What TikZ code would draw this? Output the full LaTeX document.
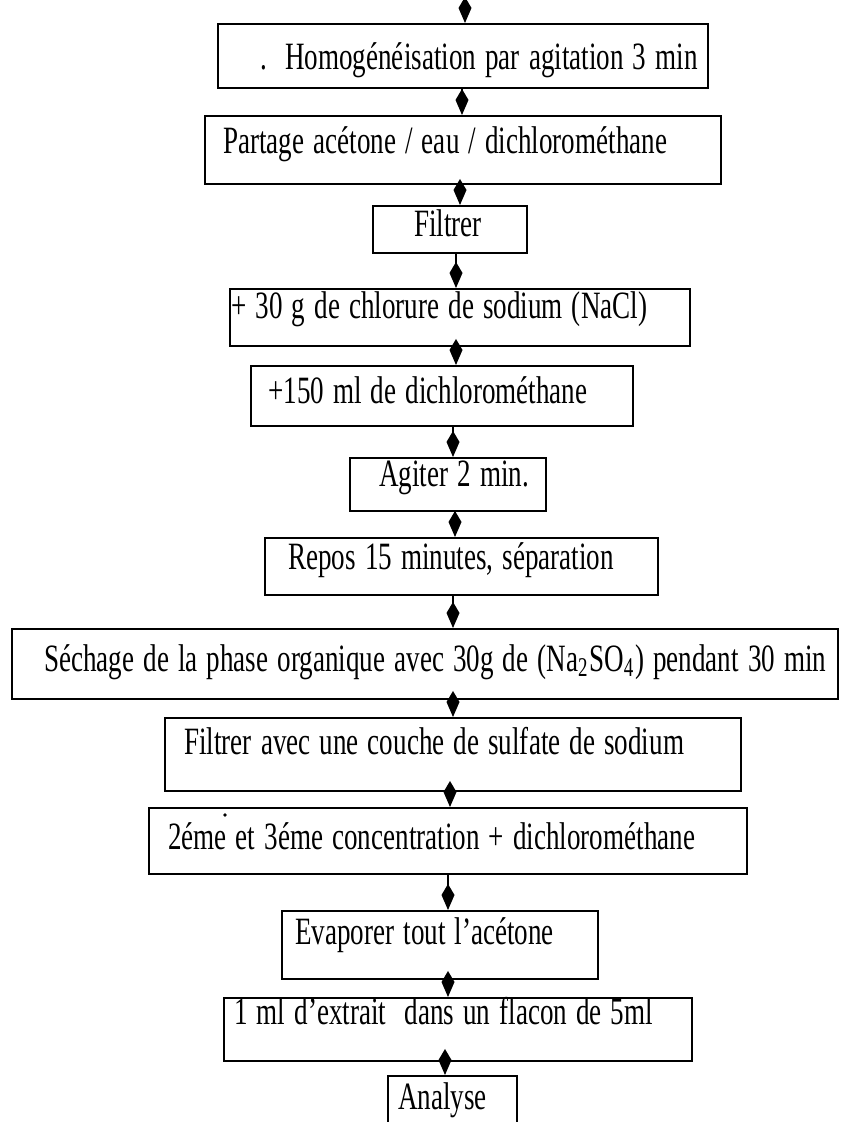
\documentclass[tikz,border=0pt]{standalone}
\usepackage{fontspec}
\setmainfont{Liberation Serif}[FakeStretch=0.7]
\usetikzlibrary{arrows.meta}

\begin{document}
\begin{tikzpicture}[
    stepbox/.style={draw, line width=0.7pt, inner sep=0pt, anchor=north west, font=\fontsize{11}{13}\selectfont,
      execute at begin node={\spaceskip 2.6pt\relax}},
    flow/.style={line width=0.7pt, -{Kite[length=2.6mm, width=1.3mm, inset=1.1mm]}}
  ]
  \useasboundingbox (0,0) rectangle (8.66,11.22);

  % Steps
  \node[stepbox, text width=4.90cm, text height=0.45cm, text depth=0.19cm] (homog) at (2.17,10.99) {\mbox{\hspace*{0.42cm}.\ \ Homogénéisation par agitation 3 min}};
  \node[stepbox, text width=5.16cm, text height=0.37cm, text depth=0.31cm] (partage) at (2.04,10.07) {\mbox{\hspace*{0.18cm}Partage acétone / eau / dichlorométhane}};
  \node[stepbox, text width=1.54cm, text height=0.30cm, text depth=0.17cm] (filtre) at (3.72,9.17) {\mbox{\hspace*{0.41cm}Filtrer}};
  \node[stepbox, text width=4.60cm, text height=0.29cm, text depth=0.28cm] (nacl) at (2.29,8.34) {\mbox{\hspace*{0.01cm}+ 30 g de chlorure de sodium (NaCl)}};
  \node[stepbox, text width=3.82cm, text height=0.37cm, text depth=0.23cm] (dcm) at (2.50,7.57) {\mbox{\hspace*{0.17cm}+150 ml de dichlorométhane}};
  \node[stepbox, text width=1.96cm, text height=0.28cm, text depth=0.25cm] (agiter) at (3.49,6.65) {\mbox{\hspace*{0.29cm}Agiter 2 min.}};
  \node[stepbox, text width=3.93cm, text height=0.31cm, text depth=0.26cm] (repos) at (2.64,5.85) {\mbox{\hspace*{0.23cm}Repos 15 minutes, séparation}};
  \node[stepbox, text width=8.26cm, text height=0.42cm, text depth=0.28cm] (sechage) at (0.11,4.94) {\mbox{\hspace*{0.32cm}Séchage de la phase organique avec 30g de (Na\textsubscript{2}SO\textsubscript{4}) pendant 30 min}};
  \node[stepbox, text width=5.76cm, text height=0.36cm, text depth=0.37cm] (filtresulf) at (1.64,4.05) {\mbox{\hspace*{0.19cm}Filtrer avec une couche de sulfate de sodium}};
  \node[stepbox, text width=5.98cm, text height=0.41cm, text depth=0.25cm] (concent) at (1.48,3.15) {\mbox{\hspace*{0.19cm}2éme et 3éme concentration + dichlorométhane}};
  \node[stepbox, text width=3.16cm, text height=0.33cm, text depth=0.35cm] (evap) at (2.81,2.12) {\mbox{\hspace*{0.13cm}Evaporer tout l’acétone}};
  \node[stepbox, text width=4.68cm, text height=0.26cm, text depth=0.37cm] (flacon) at (2.23,1.25) {\mbox{\hspace*{0.10cm}1 ml d’extrait\ \ dans un flacon de 5ml}};
  \node[stepbox, text width=1.29cm, text height=0.33cm, text depth=0.32cm] (analyse) at (3.87,0.47) {\mbox{\hspace*{0.10cm}Analyse}};

  % stray mark above 2éme
  \fill (2.25,3.07) circle (0.5pt);

  % Arrows
  \coordinate (entree) at (4.65,11.40);
  \draw[flow] (entree) -- (homog.north -| entree);
  \foreach \a/\b/\x in {homog/partage/4.62, partage/filtre/4.60, filtre/nacl/4.56, nacl/dcm/4.56,
      dcm/agiter/4.53, agiter/repos/4.55, repos/sechage/4.53, sechage/filtresulf/4.53,
      filtresulf/concent/4.50, concent/evap/4.48, evap/flacon/4.48, flacon/analyse/4.45}
    \draw[flow] (\a.south -| \x,0) -- (\b.north -| \x,0);
\end{tikzpicture}
\end{document}
